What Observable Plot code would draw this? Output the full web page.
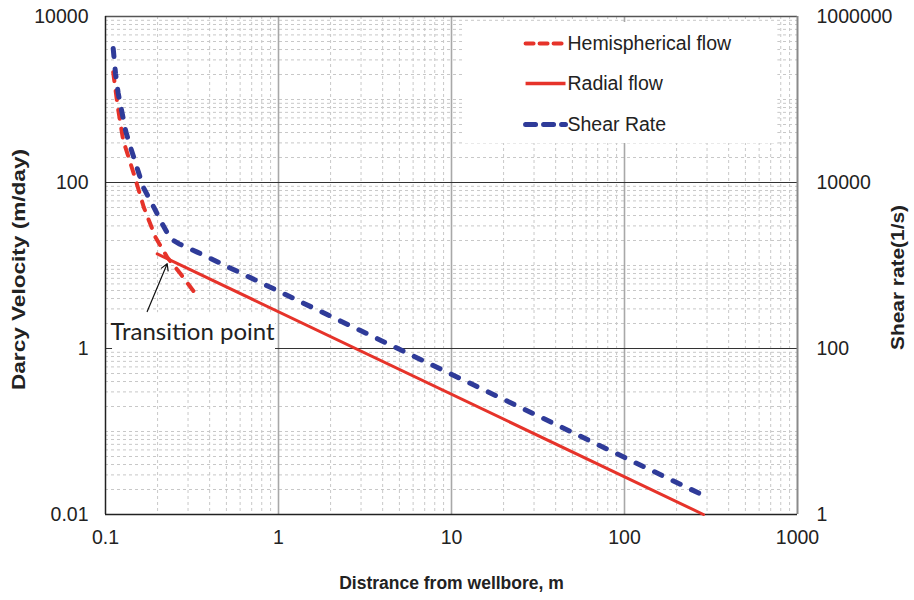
<!DOCTYPE html>
<html>
<head>
<meta charset="utf-8">
<script src="https://cdn.jsdelivr.net/npm/d3@7"></script>
<script src="https://cdn.jsdelivr.net/npm/@observablehq/plot@0.6"></script>
<style>
  html, body { margin: 0; padding: 0; background: white; }
  #chart { width: 914px; height: 600px; }
</style>
</head>
<body>
<div id="chart"></div>
<script>
// ---- Data ----
// Hemispherical flow (red dashed): distance (m) vs Darcy velocity (m/day)
const hemiDistance = [0.1108, 0.1178, 0.1266, 0.1458, 0.1664, 0.1945, 0.2273, 0.2714, 0.3313];
const hemiVelocity = [2133, 808, 321, 127, 50.4, 21.9, 12.6, 7.94, 4.56];

// Radial flow (red solid)
const radialDistance = [0.199, 286];
const radialVelocity = [13.8, 0.01];

// Shear rate (blue dashed), in 1/s (right axis)
const shearDistance = [0.1108, 0.1143, 0.1184, 0.1310, 0.1395, 0.1652, 0.1902, 0.2127, 0.2375, 0.2653, 0.3389, 300];
const shearRate = [411500, 205600, 119100, 41100, 26600, 8780, 5040, 3180, 2100, 1830, 1450, 1.62];

// right axis = left axis × 100
const shearToVelocity = 100;

// Tick labels
const xTicks = [0.1, 1, 10, 100, 1000];
const xTickLabels = ["0.1", "1", "10", "100", "1000"];
const yTicks = [0.01, 1, 100, 10000];
const yTickLabels = ["0.01", "1", "100", "10000"];
const yRightLabels = ["1", "100", "10000", "1000000"];

// Legend
const legendLabels = ["Hemispherical flow", "Radial flow", "Shear Rate"];
const legendY = [4730, 1560, 500];
const legendLineX = [26.8, 45.6];
const legendTextX = 46.8;
const legendBox = {x1: 12, x2: 770, y1: 295, y2: 8466};

// Annotation
const annotationText = "Transition point";
const annotationPos = {x: 0.3185, y: 1.25};
const annotationBox = {x1: 0.1098, x2: 0.961, y1: 0.93, y2: 2.7};
const annotationArrow = {x1: 0.1742, y1: 2.79, x2: 0.2273, y2: 10.5};

// Titles
const xTitle = "Distrance from wellbore, m";
const yTitle = "Darcy Velocity (m/day)";
const yRightTitle = "Shear rate(1/s)";

// ---- Build tables ----
const hemi = hemiDistance.map((d, i) => ({d, v: hemiVelocity[i]}));
const radial = radialDistance.map((d, i) => ({d, v: radialVelocity[i]}));
const shear = shearDistance.map((d, i) => ({d, v: shearRate[i] / shearToVelocity}));

const decadesX = [-1, 0, 1, 2];
const decadesY = [-2, -1, 0, 1, 2, 3];
const majorX = [1, 10, 100];
const majorY = [1, 100];
const minorX = decadesX.flatMap(n => d3.range(2, 10).map(k => k * Math.pow(10, n)));
const minorY = decadesY.flatMap(n => d3.range(1, 10).map(k => k * Math.pow(10, n)))
  .filter(v => ![0.01, 1, 100, 10000].some(m => Math.abs(v / m - 1) < 1e-9));

const RED = "#e6332a";
const BLUE = "#2f3b99";
const RED_DASH = "9,10";
const BLUE_DASH = "8,12.5";

const legendRows = legendLabels.map((label, i) => ({label, y: legendY[i]}));

const chart = Plot.plot({
  width: 914,
  height: 600,
  marginLeft: 105,
  marginRight: 117,
  marginTop: 16,
  marginBottom: 86,
  x: {type: "log", domain: [0.1, 1000]},
  y: {type: "log", domain: [0.01, 10000]},
  style: {fontFamily: "'Liberation Sans', Arial, sans-serif", background: "white", color: "#222"},
  marks: [
    // grid
    Plot.ruleX(minorX, {stroke: "#c8c8c8", strokeWidth: 1, strokeDasharray: "3,3"}),
    Plot.ruleY(minorY, {stroke: "#c8c8c8", strokeWidth: 1, strokeDasharray: "3,3"}),
    Plot.ruleX(majorX, {stroke: "#a8a8a8", strokeWidth: 1.6}),
    Plot.ruleY(majorY, {stroke: "#333", strokeWidth: 1.2}),
    // white boxes
    Plot.rect([legendBox], {x1: "x1", x2: "x2", y1: "y1", y2: "y2", fill: "white"}),
    Plot.rect([annotationBox], {x1: "x1", x2: "x2", y1: "y1", y2: "y2", fill: "white"}),
    // frame
    Plot.ruleY([10000], {stroke: "#555", strokeWidth: 1.5}),
    Plot.ruleX([1000], {stroke: "#8a8a8a", strokeWidth: 2}),
    Plot.ruleX([0.1], {stroke: "#222", strokeWidth: 1.5}),
    Plot.ruleY([0.01], {stroke: "#222", strokeWidth: 1.5}),
    // series
    Plot.line(radial, {x: "d", y: "v", stroke: RED, strokeWidth: 3}),
    Plot.line(hemi, {x: "d", y: "v", stroke: RED, strokeWidth: 4, strokeDasharray: RED_DASH, strokeLinecap: "round"}),
    Plot.line(shear, {x: "d", y: "v", stroke: BLUE, strokeWidth: 5, strokeDasharray: BLUE_DASH, strokeLinecap: "round"}),
    // annotation
    Plot.arrow([annotationArrow], {x1: "x1", y1: "y1", x2: "x2", y2: "y2", stroke: "#111", strokeWidth: 1.2, headLength: 9}),
    Plot.text([annotationPos], {x: "x", y: "y", text: () => annotationText, fontFamily: "Lato", fontSize: 24, lineAnchor: "bottom", textAnchor: "middle", fill: "#222"}),
    // legend
    Plot.link([legendRows[0]], {x1: () => legendLineX[0], x2: () => legendLineX[1], y1: "y", y2: "y", stroke: RED, strokeWidth: 4, strokeDasharray: "8,6", strokeLinecap: "round"}),
    Plot.link([legendRows[1]], {x1: () => legendLineX[0], x2: () => legendLineX[1], y1: "y", y2: "y", stroke: RED, strokeWidth: 3.5}),
    Plot.link([legendRows[2]], {x1: () => legendLineX[0], x2: () => legendLineX[1], y1: "y", y2: "y", stroke: BLUE, strokeWidth: 5, strokeDasharray: "10,8", strokeLinecap: "round"}),
    Plot.text(legendRows, {x: () => legendTextX, y: "y", text: "label", textAnchor: "start", fontSize: 19.5, fill: "#222"}),
    // axes
    Plot.axisX({ticks: xTicks, tickFormat: d => xTickLabels[xTicks.indexOf(d)], tickSize: 0, tickPadding: 16, fontSize: 19.5, label: null}),
    Plot.axisY({anchor: "left", ticks: yTicks, tickFormat: d => yTickLabels[yTicks.indexOf(d)], tickSize: 0, tickPadding: 17, fontSize: 19.5, label: null}),
    Plot.axisY({anchor: "right", ticks: yTicks, tickFormat: d => yRightLabels[yTicks.indexOf(d)], tickSize: 0, tickPadding: 19, fontSize: 19.5, label: null}),
    // titles
    Plot.text([yTitle], {frameAnchor: "left", textAnchor: "middle", rotate: -90, dx: -87, dy: 4, fontWeight: "bold", fontSize: 19, fill: "#222"}),
    Plot.text([yRightTitle], {frameAnchor: "right", textAnchor: "middle", rotate: -90, dx: 100, dy: 12, fontWeight: "bold", fontSize: 19, fill: "#222"}),
    Plot.text([xTitle], {frameAnchor: "bottom", dy: 74, fontWeight: "bold", fontSize: 17.5, fill: "#222"})
  ]
});
// stretch the rotated titles to the lengths seen in the reference
d3.select(chart).selectAll("text")
  .filter(function () { return this.textContent === yTitle; })
  .attr("textLength", 241).attr("lengthAdjust", "spacingAndGlyphs");
d3.select(chart).selectAll("text")
  .filter(function () { return this.textContent === yRightTitle; })
  .attr("textLength", 145).attr("lengthAdjust", "spacingAndGlyphs");
document.getElementById("chart").appendChild(chart);
</script>
</body>
</html>
